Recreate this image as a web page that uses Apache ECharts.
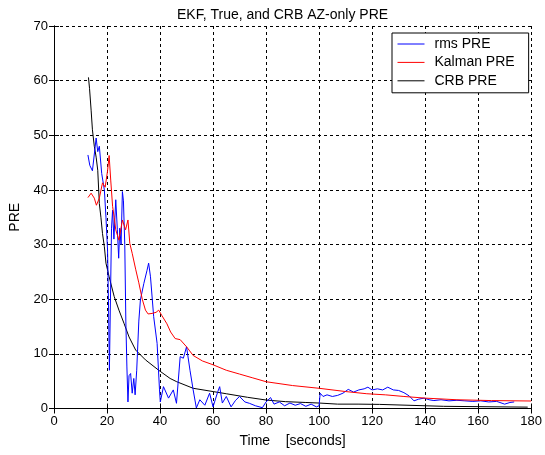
<!DOCTYPE html>
<html>
<head>
<meta charset="utf-8">
<script src="https://cdn.jsdelivr.net/npm/echarts@6/dist/echarts.min.js"></script>
<style>html,body{margin:0;padding:0;background:#fff}#c{width:545px;height:455px}</style>
</head>
<body>
<div id="c"></div>
<script>
const titleText = 'EKF, True, and CRB AZ-only PRE';
const xName = 'Time    [seconds]';
const yName = 'PRE';
const xTicks = [0, 20, 40, 60, 80, 100, 120, 140, 160, 180];
const yTicks = [0, 10, 20, 30, 40, 50, 60, 70];

const rmsT = [12.8,13.5,14.5,15.2,15.9,16.5,17.1,18,19,19.6,20.2,20.6,20.9,21.3,21.7,22.1,22.6,23.3,23.9,24.4,24.8,25.3,25.8,26.2,26.7,27.1,27.5,27.9,28.3,28.9,29.5,30.1,30.6,31.2,32,32.6,33.9,35.1,35.7,36.4,37.6,38.9,39.8,40.1,41.3,43.2,45,46.2,47.6,48.8,50,51.3,52.5,53.7,55,56.9,58.7,60,61.8,62.5,63.5,65,66.8,68.5,70,72,73.7,76,78.6,80,81.7,83,85,87,89,91,93,95,97,99,100,100.4,101.5,103,105,107,109,111,113,115,117,118.4,120,122,124,125.9,128,130,132,134,135.8,137.5,139.6,141.5,143.3,146,149,152,155,158,161,164,167,170,172,173.6];
const rmsV = [46.4,44.5,43.5,43.8,49.5,47,48,43,40,35,29,18,7,20,33,36.3,31,38.2,32.7,27.5,33,30,39.7,38,30,16,7.6,1.2,6,6.4,2.8,5.5,2.5,7,16,19.9,22.9,25.3,26.6,24.1,16.8,11.9,3.4,1.2,4,1.9,3.4,0.95,9.5,9.2,11.3,7,3.4,0.1,1.6,0.6,2.8,0.3,3.1,4,1,2.2,0.3,1.5,2.2,1.2,0.95,0.5,0.15,1.2,2,0.8,1.2,0.5,1,0.6,0.9,0.4,0.8,0.3,0.5,2.8,2.2,2.5,2.2,2.4,2.8,3.5,3,3.4,3.6,3.9,3.4,3.6,3.4,3.9,3.4,3.3,2.9,2.3,1.4,1.7,1.9,1.6,1.45,1.6,1.4,1.5,1.4,1.3,1.4,1.2,1.3,0.8,1.1,1.2];

const kalT = [12.8,14,15.2,16,17.1,18.3,19.3,20.2,20.8,21.4,22.1,22.7,23.3,24.5,25.8,27,27.9,28.6,29.5,30.8,32,33.3,34.5,35.5,37,38.5,39.5,40.7,42.6,44,45.7,47.6,50,52.5,56,60,65,70,75,80,90,100,110,118,125,132,140,152,165,180];
const kalV = [38.6,39.4,38.5,37.2,38.5,41.3,40.5,43.5,46.3,41.8,37,35,32.7,30.8,34.5,32.7,34.5,30.2,28.4,25.5,23,20,18,17.3,17.4,17.6,18,17,15.5,14,12.8,12.6,11.3,9.7,8.7,8,7,6.3,5.6,4.9,4.2,3.7,3.1,2.7,2.5,2.2,1.9,1.6,1.45,1.37];

const crbT = [13,13.4,14,14.5,15.2,15.9,16.5,17.1,17.7,18.3,19,19.6,20.8,22.7,24.5,26.4,28.3,30.8,34.5,39.5,43.8,46.3,52.5,60,65,73,80,87.4,95,100,107,114.7,122.8,122.9,147,147.1,178.7];
const crbV = [60.6,58.6,54.6,51,48,46,43.6,37.5,35,32,29.6,26.6,24.1,20.5,18,15.6,13.1,10.7,8.9,7,5.5,4.9,3.7,3.1,2.7,2.05,1.55,1.25,1.1,1,0.8,0.8,0.75,0.45,0.4,0.25,0.25];

function zip(a, b) { return a.map((t, i) => [t, b[i]]); }

const chart = echarts.init(document.getElementById('c'));
const FONT = 'Liberation Sans, Arial, sans-serif';
const grid = { left: 52.5, top: 26, right: 10, bottom: 46.5 };
const split = { show: true, lineStyle: { color: '#000', width: 1, type: [3, 3] } };
const tick = { show: true, inside: true, length: 5, lineStyle: { color: '#000' } };
const axLine = { show: true, lineStyle: { color: '#000', width: 1 } };

chart.setOption({
  animation: false,
  backgroundColor: '#fff',
  title: {
    text: titleText, left: 172, top: 3,
    textStyle: { fontFamily: FONT, fontSize: 14, fontWeight: 'normal', color: '#000' }
  },
  grid: grid,
  legend: {
    orient: 'vertical', left: 392, top: 33,
    data: ['rms PRE', 'Kalman PRE', 'CRB PRE'],
    itemWidth: 27, itemHeight: 14, itemGap: 4.4,
    padding: [4, 14, 5, 5],
    borderColor: '#000', borderWidth: 1, backgroundColor: '#fff',
    itemStyle: { opacity: 0 },
    lineStyle: { width: 1 },
    textStyle: { fontFamily: FONT, fontSize: 14, color: '#000', padding: [0, 0, 0, 5] }
  },
  xAxis: [{
    type: 'value', min: xTicks[0], max: xTicks[xTicks.length - 1], interval: 20,
    name: xName, nameLocation: 'middle', nameGap: 26,
    nameTextStyle: { fontFamily: FONT, fontSize: 14, color: '#000' },
    axisLine: axLine, axisTick: tick, splitLine: split,
    axisLabel: { fontFamily: FONT, fontSize: 13, color: '#000', margin: 6 }
  }, {
    type: 'value', position: 'top', min: 0, max: 180, interval: 20,
    axisLine: axLine, axisTick: tick, splitLine: { show: false }, axisLabel: { show: false }
  }],
  yAxis: [{
    type: 'value', min: yTicks[0], max: yTicks[yTicks.length - 1], interval: 10,
    name: yName, nameLocation: 'middle', nameGap: 32, nameRotate: 90,
    nameTextStyle: { fontFamily: FONT, fontSize: 14, color: '#000' },
    axisLine: axLine, axisTick: tick, splitLine: split,
    axisLabel: { fontFamily: FONT, fontSize: 13, color: '#000', margin: 6 }
  }, {
    type: 'value', position: 'right', min: 0, max: 70, interval: 10,
    axisLine: axLine, axisTick: tick, splitLine: { show: false }, axisLabel: { show: false }
  }],
  series: [
    { name: 'rms PRE', type: 'line', data: zip(rmsT, rmsV), symbol: 'none', color: '#0000ff',
      lineStyle: { width: 1, color: '#0000ff' }, z: 3 },
    { name: 'Kalman PRE', type: 'line', data: zip(kalT, kalV), symbol: 'none', color: '#ff0000',
      lineStyle: { width: 1, color: '#ff0000' }, z: 4 },
    { name: 'CRB PRE', type: 'line', data: zip(crbT, crbV), symbol: 'none', color: '#000000',
      lineStyle: { width: 1, color: '#000000' }, z: 2 }
  ]
});
</script>
</body>
</html>
